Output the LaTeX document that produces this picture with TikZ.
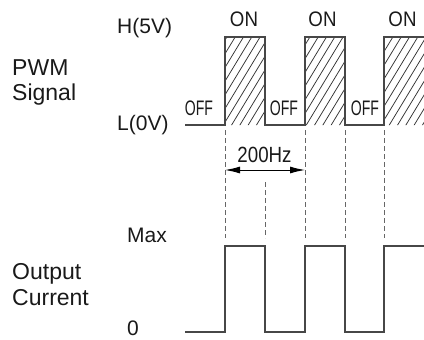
\documentclass[tikz,border=0pt]{standalone}
\usepackage{fontspec}
\setmainfont{Liberation Sans}
\usetikzlibrary{arrows.meta}
\begin{document}
\begin{tikzpicture}[x=1pt,y=-1pt,
  biglbl/.style={inner sep=0pt, anchor=base west, font=\fontsize{23}{25}\selectfont, text=black!90},
  lvl/.style={inner sep=0pt, anchor=base west, font=\fontsize{21}{23}\selectfont, text=black!90},
  stlbl/.style={inner sep=0pt, anchor=base, font=\fontsize{21}{23}\selectfont, text=black!90},
  wave/.style={line width=1.1pt, draw=black!72},
  hatchln/.style={line width=0.75pt, draw=black!80},
  guide/.style={line width=1pt, draw=black!60, dash pattern=on 5pt off 3pt},
  dimarrow/.style={line width=1pt, draw=black, {Latex[length=15pt,width=7pt]}-{Latex[length=15pt,width=7pt]}},
]
\useasboundingbox (0,0) rectangle (424,340);

% hatching of the ON pulses
\begin{scope}
  \clip (225,37) rectangle (265,125) (305,37) rectangle (345,125) (384,37) rectangle (424,125);
  \foreach \k in {-6,...,32} {
    \draw[hatchln] (171.7+\k*8.3,128) -- (171.7+\k*8.3+57,34);
  }
\end{scope}

% PWM waveform
\draw[wave] (185,125) -- (225,125) -- (225,37) -- (265,37) -- (265,125) -- (305,125)
  -- (305,37) -- (345,37) -- (345,125) -- (384,125) -- (384,37) -- (424,37);

% output current waveform
\draw[wave] (185,332) -- (225,332) -- (225,246) -- (265,246) -- (265,332) -- (305,332)
  -- (305,246) -- (345,246) -- (345,332) -- (384,332) -- (384,246) -- (424,246);

% guide lines
\coordinate (g1t) at (225,130); \coordinate (g1b) at (225,238);
\coordinate (g2t) at (265,182); \coordinate (g2b) at (265,238);
\coordinate (g3t) at (305,130); \coordinate (g3b) at (305,238);
\coordinate (g4t) at (345,130); \coordinate (g4b) at (345,238);
\coordinate (g5t) at (384,130); \coordinate (g5b) at (384,238);
\draw[guide] (g1t) -- (g1b);
\draw[guide] (g2t) -- (g2b);
\draw[guide] (g3t) -- (g3b);
\draw[guide] (g4t) -- (g4b);
\draw[guide] (g5t) -- (g5b);

% frequency dimension
\coordinate (d1) at (225,170);
\coordinate (d2) at (305,170);
\draw[dimarrow] (d1) -- (d2);
\node[stlbl, font=\fontsize{22}{24}\selectfont] (freq) at (264.5,162) {\scalebox{0.85}[1]{200Hz}};

% left labels
\node[biglbl] (pwm) at (12,75) {PWM};
\node[biglbl] (sig) at (12,100) {Signal};
\node[biglbl] (outp) at (12,279) {Output};
\node[biglbl] (curr) at (12,305) {Current};

% level labels
\node[lvl] (hi) at (117,34) {H(5V)};
\node[lvl] (lo) at (117,130) {L(0V)};
\node[lvl] (mx) at (127,242) {Max};
\node[lvl] (zero) at (127,335) {0};

% ON / OFF labels
\node[stlbl] (on1) at (244,27) {\scalebox{0.89}[1]{ON}};
\node[stlbl] (on2) at (322.5,27) {\scalebox{0.89}[1]{ON}};
\node[stlbl] (on3) at (402.5,27) {\scalebox{0.89}[1]{ON}};
\node[stlbl] (off1) at (199,115) {\scalebox{0.67}[1]{OFF}};
\node[stlbl] (off2) at (284,115) {\scalebox{0.67}[1]{OFF}};
\node[stlbl] (off3) at (365,115) {\scalebox{0.67}[1]{OFF}};
\end{tikzpicture}
\end{document}
